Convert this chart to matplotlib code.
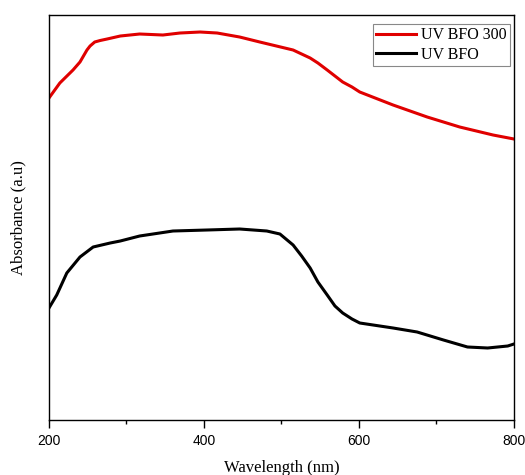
import numpy as np
import matplotlib.pyplot as plt

# UV BFO 300 (red)
wl_red = [200, 214, 231, 240, 249, 253, 259, 266, 275, 292, 317, 347, 369, 395, 417, 446,
          472, 515, 537, 547, 559, 569, 579, 591, 601, 644, 688, 730, 773, 800]
abs_red = [3.22, 3.37, 3.50, 3.58, 3.70, 3.74, 3.78, 3.795, 3.81, 3.84, 3.86, 3.85, 3.87, 3.88, 3.87, 3.83,
           3.78, 3.70, 3.62, 3.57, 3.50, 3.44, 3.38, 3.33, 3.28, 3.15, 3.03, 2.93, 2.85, 2.81]

# UV BFO (black)
wl_blk = [200, 210, 223, 240, 257, 279, 292, 317, 360, 404, 446, 481, 498, 515, 526,
          537, 547, 559, 569, 579, 591, 601, 644, 675, 709, 740, 766, 792, 800]
abs_blk = [1.12, 1.25, 1.47, 1.63, 1.73, 1.77, 1.79, 1.84, 1.89, 1.90, 1.91, 1.89, 1.86, 1.75, 1.64,
           1.52, 1.38, 1.25, 1.14, 1.07, 1.01, 0.97, 0.92, 0.88, 0.80, 0.73, 0.72, 0.74, 0.76]

serif = ['Liberation Serif', 'DejaVu Serif']

fig = plt.figure(figsize=(5.25, 4.75), dpi=100)
ax = fig.add_axes([0.0933, 0.1158, 0.8857, 0.8526])

ax.plot(wl_red, abs_red, color='#e00000', lw=2.2, label='UV BFO 300')
ax.plot(wl_blk, abs_blk, color='black', lw=2.2, label='UV BFO')

ax.set_xlim(200, 800)
ax.set_ylim(0, 4.05)
ax.set_xticks([200, 400, 600, 800])
ax.set_xticks([300, 500, 700], minor=True)
ax.set_yticks([])
ax.tick_params(axis='x', which='major', direction='out', length=6, width=1, labelsize=10, pad=4,
               labelfontfamily='Liberation Sans')
ax.tick_params(axis='x', which='minor', direction='out', length=3, width=1)
for s in ax.spines.values():
    s.set_linewidth(1)

ax.set_xlabel('Wavelength (nm)', family=serif, fontsize=12, labelpad=9)
ax.set_ylabel('Absorbance (a.u)', family=serif, fontsize=12, labelpad=16)

leg = ax.legend(loc='upper right', bbox_to_anchor=(0.998, 0.985), prop={'family': serif, 'size': 11.5},
                fancybox=False, edgecolor='#888888', framealpha=1, handlelength=2.5,
                handletextpad=0.3, borderpad=0.2, labelspacing=0.2, borderaxespad=0.2)
leg.get_frame().set_linewidth(0.8)

fig.savefig('out.png', dpi=100)
